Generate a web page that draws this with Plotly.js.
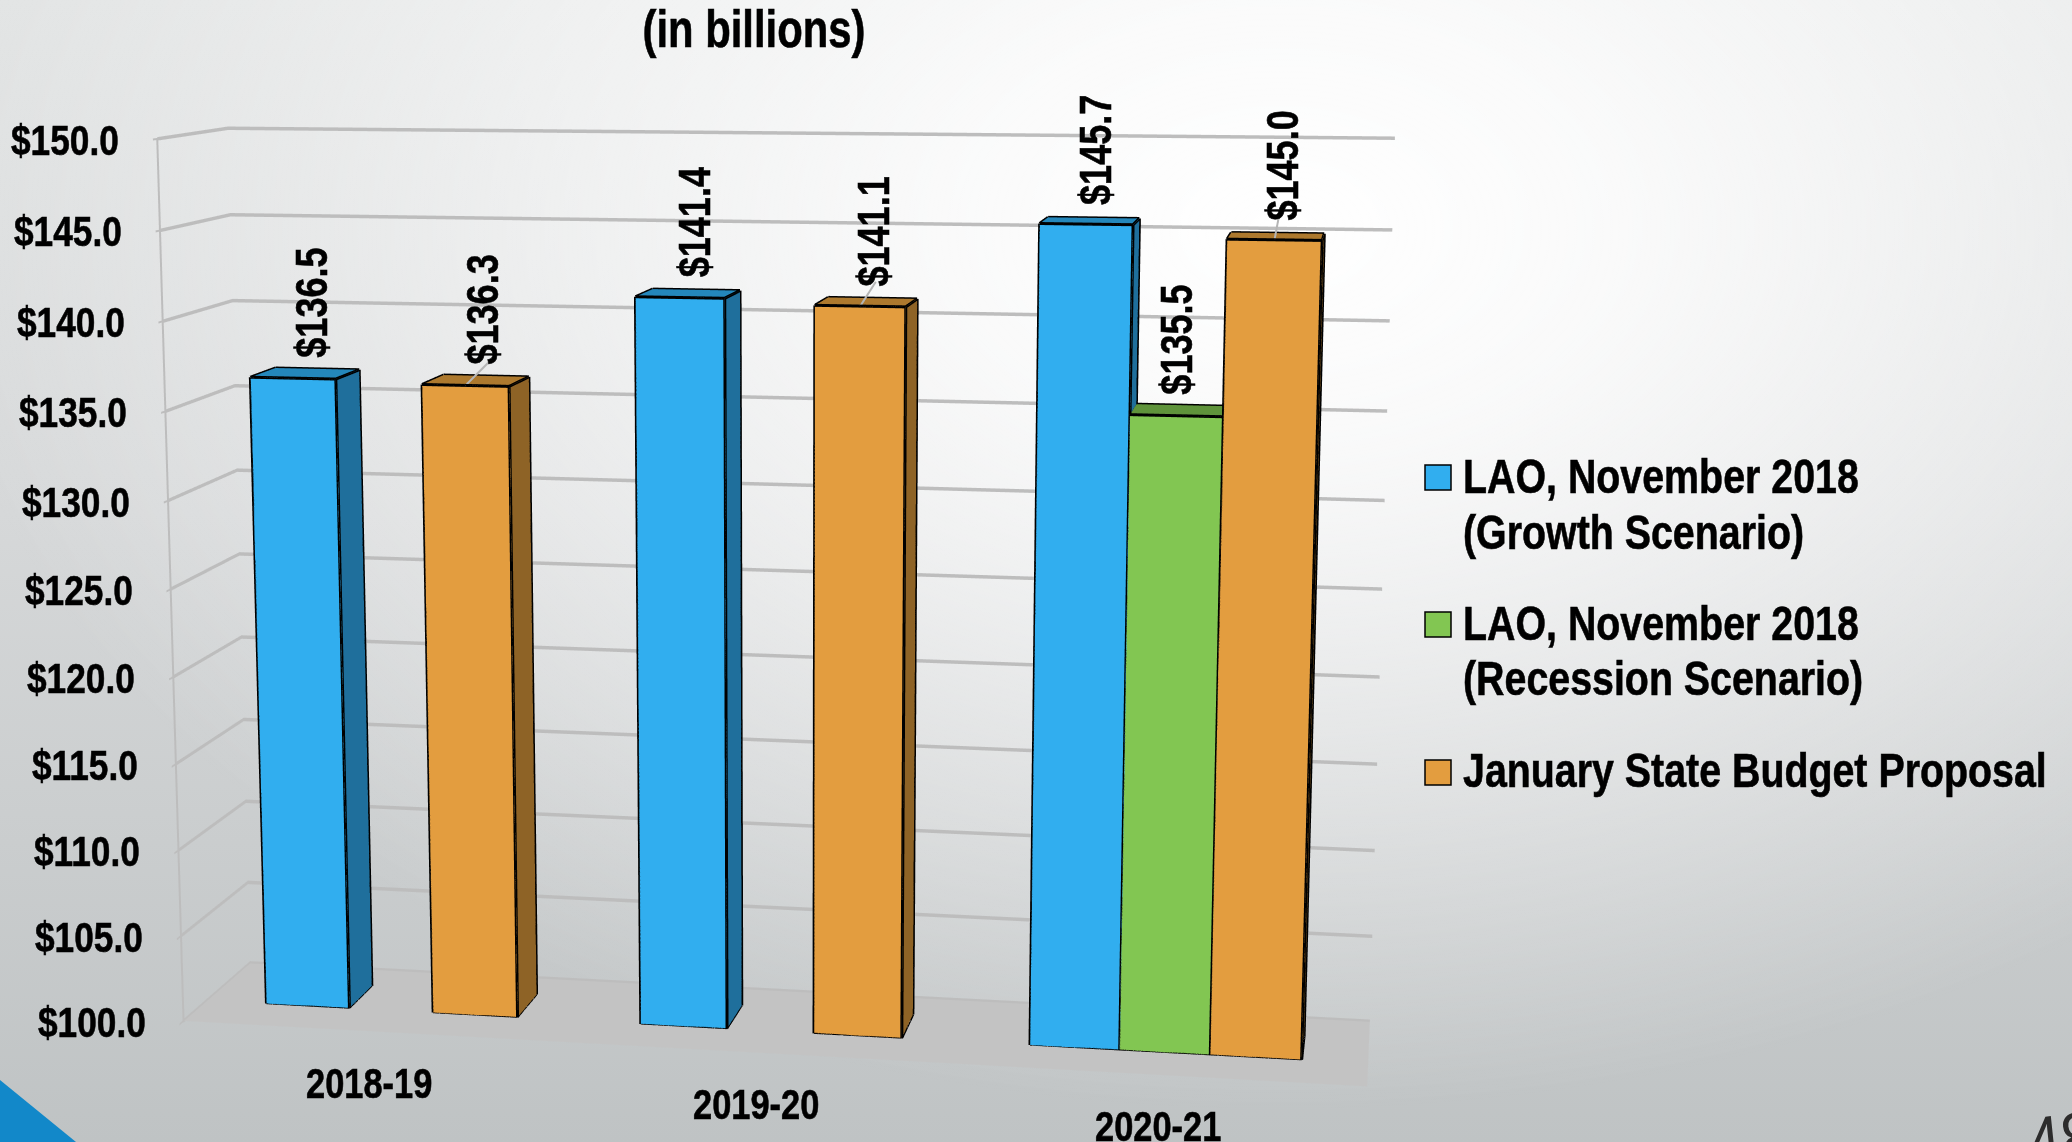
<!DOCTYPE html>
<html>
<head>
<meta charset="utf-8">
<script src="https://cdn.plot.ly/plotly-3.0.1.min.js"></script>
<style>
  html, body { margin: 0; padding: 0; width: 2072px; height: 1142px; overflow: hidden; }
  body {
    background:
      radial-gradient(ellipse 1350px 880px at 1280px 230px, rgba(255,255,255,1) 0%, rgba(255,255,255,0.85) 25%, rgba(255,255,255,0) 100%),
      linear-gradient(180deg, #e2e4e4 0%, #d6d8d9 45%, #bfc3c4 100%);
  }
  #chart { position: absolute; left: 0; width: 2072px; }
  /* Condensed heavy lettering */
  text.annotation-text { transform-box: fill-box; transform-origin: left center; transform: scaleX(0.82); stroke: #000; stroke-width: 0.6px; }
  text.annotation-text[data-unformatted="48"] { stroke: none; }
  text.gtitle { transform-box: fill-box; transform-origin: center center; transform: scaleX(0.82); stroke: #000; stroke-width: 0.6px; }
</style>
</head>
<body>
<div id="chart"></div>
<script>
// Budget figures, in billions of dollars
const categories = ['2018-19', '2019-20', '2020-21'];
const growthValues = [136.5, 141.4, 145.7];
const recessionValues = [null, null, 135.5];
const januaryValues = [136.3, 141.1, 145.0];
const axisTicks = [100, 105, 110, 115, 120, 125, 130, 135, 140, 145, 150];

const growthLines = ['LAO, November 2018', '(Growth Scenario)'];
const recessionLines = ['LAO, November 2018', '(Recession Scenario)'];
const januaryLines = ['January State Budget Proposal'];

const FONT = '"Liberation Sans", Arial, sans-serif';

// The scene is larger than the window so its 45 degree lens reads as a long one.
const W = 2072, H = 2894, TOP = 912;
document.getElementById('chart').style.top = -TOP + 'px';
document.getElementById('chart').style.height = H + 'px';
const px = x => x / W;
const py = y => 1 - (y + TOP) / H;

const series = [
  { values: growthValues, slot: 0, front: '#31aeef', side: '#1f6f9c', top: '#2487bb', leader: false, labelShift: 7 },
  { values: recessionValues, slot: 1, front: '#82c652', side: '#557f36', top: '#5f933b', leader: false, labelShift: -2 },
  { values: januaryValues, slot: 2, front: '#e39d3f', side: '#8e6326', top: '#ad792e', leader: true, labelShift: 7 }
];

const SLOT = 0.225, DEPTH_FRONT = 0.34, DEPTH_BACK = 0.72;

// Twelve triangles per box: front, right, back, left, top, bottom
const QUADS = [[0,1,5,4],[1,2,6,5],[2,3,7,6],[3,0,4,7],[4,5,6,7],[0,3,2,1]];
const EDGES = [[0,1],[1,2],[2,3],[3,0],[4,5],[5,6],[6,7],[7,4],[0,4],[1,5],[2,6],[3,7]];

const traces = [];
const annotations = [];

series.forEach(s => {
  const vx = [], vy = [], vz = [], ti = [], tj = [], tk = [], faceColors = [];
  const ex = [], ey = [], ez = [];
  const lx = [], ly = [], lz = [];
  s.values.forEach((v, c) => {
    if (v === null) return;
    const x0 = c + 0.5 - 1.5 * SLOT + s.slot * SLOT, x1 = x0 + SLOT;
    const base = vx.length;
    const xs = [x0, x1, x1, x0, x0, x1, x1, x0];
    const ys = [DEPTH_FRONT, DEPTH_FRONT, DEPTH_BACK, DEPTH_BACK, DEPTH_FRONT, DEPTH_FRONT, DEPTH_BACK, DEPTH_BACK];
    const zs = [100, 100, 100, 100, v, v, v, v];
    xs.forEach((_, i) => { vx.push(xs[i]); vy.push(ys[i]); vz.push(zs[i]); });
    QUADS.forEach((q, n) => {
      const col = n === 4 ? s.top : (n === 0 ? s.front : s.side);
      ti.push(base + q[0]); tj.push(base + q[1]); tk.push(base + q[2]); faceColors.push(col);
      ti.push(base + q[0]); tj.push(base + q[2]); tk.push(base + q[3]); faceColors.push(col);
    });
    EDGES.forEach(e => {
      ex.push(xs[e[0]], xs[e[1]], null);
      ey.push(ys[e[0]], ys[e[1]], null);
      ez.push(zs[e[0]], zs[e[1]], null);
    });
    const xc = (x0 + x1) / 2;
    if (s.leader) {
      lx.push(xc, xc, null);
      ly.push(DEPTH_FRONT, DEPTH_BACK + 0.1, null);
      lz.push(v, v + 0.8, null);
    }
    annotations.push({
      x: xc, y: (DEPTH_FRONT + DEPTH_BACK) / 2, z: v,
      text: '$' + v.toFixed(1), showarrow: false, textangle: -90,
      xanchor: 'center', yanchor: 'bottom', xshift: s.labelShift, yshift: 14,
      font: { family: FONT, size: 44, color: '#000' }
    });
  });
  traces.push({
    type: 'mesh3d', x: vx, y: vy, z: vz, i: ti, j: tj, k: tk, facecolor: faceColors,
    flatshading: true, hoverinfo: 'skip', showscale: false,
    lighting: { ambient: 1, diffuse: 0, specular: 0, roughness: 1, fresnel: 0 }
  });
  traces.push({
    type: 'scatter3d', mode: 'lines', x: ex, y: ey, z: ez, hoverinfo: 'skip', showlegend: false,
    line: { color: '#000', width: 6 }
  });
  if (lx.length) {
    traces.push({
      type: 'scatter3d', mode: 'lines', x: lx, y: ly, z: lz, hoverinfo: 'skip', showlegend: false,
      line: { color: '#b5b5b5', width: 4 }
    });
  }
});

// Value axis labels follow the left wall edge
axisTicks.forEach(t => annotations.push({
  x: 0, y: 0, z: t, text: '$' + t.toFixed(1), showarrow: false,
  xanchor: 'right', yanchor: 'middle', xshift: -36, yshift: -1,
  font: { family: FONT, size: 43, color: '#000' }
}));

// Year labels sit below the front edge of the floor
categories.forEach((c, i) => annotations.push({
  x: i + 0.5, y: 0, z: 100, text: c, showarrow: false,
  xanchor: 'center', yanchor: 'middle', xshift: -2, yshift: -52,
  font: { family: FONT, size: 42, color: '#000' }
}));

// Key, title and page furniture use window pixels
const shapes = [];
const paperNotes = [];
const noteAt = (x, y, text, size, anchor, extra) => paperNotes.push(Object.assign({
  xref: 'paper', yref: 'paper', x: px(x), y: py(y), text, showarrow: false,
  xanchor: anchor, yanchor: 'middle', font: { family: FONT, size, color: '#000' }
}, extra || {}));

[[growthLines, 465, series[0].front, [476, 532]],
 [recessionLines, 612, series[1].front, [623, 678]],
 [januaryLines, 760, series[2].front, [770]]].forEach(([lines, top, color, centers]) => {
  shapes.push({ type: 'rect', xref: 'paper', yref: 'paper', x0: px(1425), x1: px(1451), y0: py(top), y1: py(top + 25),
    fillcolor: color, line: { color: '#000', width: 1.5 } });
  lines.forEach((line, i) => noteAt(1461, centers[i], line, 48, 'left'));
});

shapes.push({
  type: 'path', xref: 'paper', yref: 'paper', fillcolor: '#1288c9', line: { width: 0 },
  path: 'M ' + px(0) + ' ' + py(1080) + ' L ' + px(76) + ' ' + py(1142) + ' L ' + px(0) + ' ' + py(1142) + ' Z'
});

noteAt(2022, 1139, '48', 72, 'left', { textangle: -6, font: { family: FONT, size: 72, color: '#2c2c2c', weight: 'normal' } });

const axisBase = {
  showgrid: false, zeroline: false, showticklabels: false, showspikes: false,
  showbackground: false, ticks: '', title: { text: '' }, showline: false
};

const layout = {
  width: W, height: H,
  margin: { l: 0, r: 0, t: 0, b: 0, pad: 0, autoexpand: false },
  paper_bgcolor: 'rgba(0,0,0,0)',
  showlegend: false,
  title: {
    text: '(in billions)', font: { family: FONT, size: 51, color: '#000', weight: 'bold' },
    x: px(754), xanchor: 'center', y: py(29), yanchor: 'middle', xref: 'paper', yref: 'container'
  },
  font: { family: FONT, weight: 'bold' },
  shapes,
  annotations: paperNotes,
  scene: {
    domain: { x: [0, 2 * 776 / W], y: [0, 1] },
    bgcolor: 'rgba(0,0,0,0)',
    aspectmode: 'manual',
    aspectratio: { x: 1.224, y: 0.216, z: 0.92 },
    camera: {
      eye: { x: 0.625, y: -3.47, z: 0.646 },
      center: { x: -0.0016, y: 0.009, z: 0.0548 },
      up: { x: -0.0285, y: 0.1623, z: 0.9863 },
      projection: { type: 'perspective' }
    },
    xaxis: Object.assign({}, axisBase, { range: [0, 3] }),
    yaxis: Object.assign({}, axisBase, { range: [0, 1] }),
    zaxis: Object.assign({}, axisBase, {
      range: [100, 150], tickmode: 'array', tickvals: axisTicks,
      showgrid: true, gridcolor: '#bdbdbd', gridwidth: 7,
      showbackground: true, backgroundcolor: '#c3c3c3',
      showline: true, linecolor: '#bdbdbd', linewidth: 4,
      ticks: 'outside', tickcolor: '#bdbdbd', tickwidth: 4, ticklen: 10
    }),
    annotations
  }
};

Plotly.newPlot('chart', traces, layout, { displayModeBar: false });
</script>
</body>
</html>
